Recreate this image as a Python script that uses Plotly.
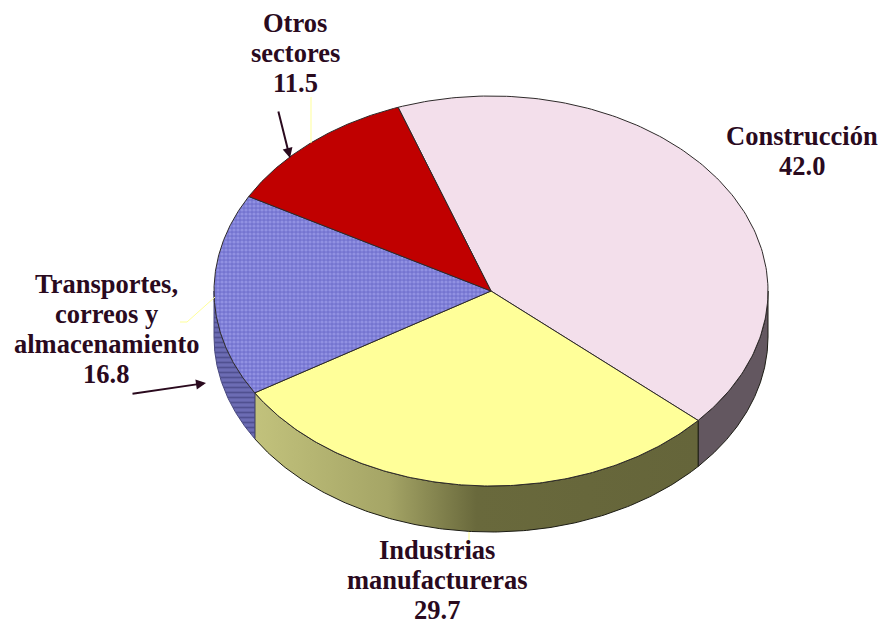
import numpy as np
import plotly.graph_objects as go

# Values, clockwise from the top of the pie
sectors = ['Construcción', 'Industrias<br>manufactureras', 'Transportes,<br>correos y<br>almacenamiento', 'Otros<br>sectores']
values = [42.0, 29.7, 16.8, 11.5]
top_colors = ['#f3dfeb', '#ffff99', '#7474d0', '#c00000']
side_colors = ['#635760', '#65653a', '#6c6cb4', '#800000']
label_x = [802, 437, 106, 295]
label_y = [136, 550, 284, 23]  # first line of each label

# Pie geometry, in page pixels
cx, cy = 491, 291
rx, ry = 277, 195
depth = 46
start_angle = -19.6
text_color = '#2a0a1e'
leader_color = '#ffff99'
line_step = 30


def rim(a0, a1):
    t = np.radians(np.linspace(a0, a1, 160))
    return cx + rx * np.sin(t), cy - ry * np.cos(t)


# Angle limits of each slice
shares = np.array(values) / sum(values) * 360
edges = start_angle + np.concatenate([[0], np.cumsum(shares)])

fig = go.Figure()

# Side wall, only the part that faces the viewer (90 to 270 degrees)
for i in range(len(values)):
    a0, a1 = max(edges[i], 90), min(edges[i + 1], 270)
    if a0 >= a1:
        continue
    x, y = rim(a0, a1)
    xs = np.concatenate([x, x[::-1], x[:1]])
    ys = np.concatenate([y, y[::-1] + depth, y[:1]])
    wall = dict(x=xs, y=ys, mode='lines', fill='toself', hoverinfo='skip',
                line=dict(color='#1c1c14', width=1))
    if i == 1:
        # Yellow wall is shaded left to right
        wall['fillgradient'] = dict(type='horizontal', colorscale=[
            [0, '#c2c27c'], [0.3, '#a5a566'], [0.5, '#69693c'], [1, '#65653a']])
    elif i == 2:
        wall['line'] = dict(color='#4a4a80', width=1)
        wall['fillcolor'] = side_colors[i]
        wall['fillpattern'] = dict(shape='-', size=5, solidity=0.35,
                                   fgcolor='#33336e', bgcolor=side_colors[i])
    else:
        wall['fillcolor'] = side_colors[i]
    fig.add_trace(go.Scatter(**wall))

# Top face of each slice
for i in range(len(values)):
    x, y = rim(edges[i], edges[i + 1])
    face = dict(x=np.concatenate([[cx], x, [cx]]), y=np.concatenate([[cy], y, [cy]]),
                mode='lines', fill='toself', hoverinfo='skip',
                line=dict(color='#2e2a2a', width=1), fillcolor=top_colors[i])
    if i == 2:
        face['fillpattern'] = dict(shape='.', size=4, solidity=0.5,
                                   fgcolor='#aeaef4', bgcolor=top_colors[i])
    fig.add_trace(go.Scatter(**face))

# Thin yellow leader lines
leaders = [([311, 311], [97, 143]),
           ([180, 187, 215], [322, 322, 297]),
           ([469, 469], [532, 560])]
for lx, ly in leaders:
    fig.add_trace(go.Scatter(x=lx, y=ly, mode='lines', hoverinfo='skip',
                             line=dict(color=leader_color, width=1)))

# Labels, one annotation per line because the line spacing is tighter than plotly's
for name, val, lx, ly in zip(sectors, values, label_x, label_y):
    for k, row in enumerate(name.split('<br>') + [f'{val:.1f}']):
        fig.add_annotation(x=lx, y=ly + k * line_step, text=f'<b>{row}</b>', showarrow=False,
                           align='center', xanchor='center', yanchor='middle',
                           font=dict(family='Liberation Serif', size=26.5, color=text_color))

# Hand drawn arrows
arrows = [(290, 158, 278, 110), (206, 383, 131, 394)]
for x1, y1, x0, y0 in arrows:
    fig.add_annotation(x=x1, y=y1, ax=x0, ay=y0, xref='x', yref='y', axref='x', ayref='y',
                       text='', showarrow=True, arrowhead=2, arrowsize=1, arrowwidth=2,
                       arrowcolor=text_color)

fig.update_layout(
    width=880, height=620,
    margin=dict(l=0, r=0, t=0, b=0),
    showlegend=False,
    paper_bgcolor='white',
    plot_bgcolor='white',
    xaxis=dict(range=[0, 880], visible=False, fixedrange=True),
    yaxis=dict(range=[620, 0], visible=False, fixedrange=True),
)

# Page default margin would push the chart 8px in
fig.write_html("out.html", config=dict(displayModeBar=False),
               post_script="document.body.style.margin='0';")
